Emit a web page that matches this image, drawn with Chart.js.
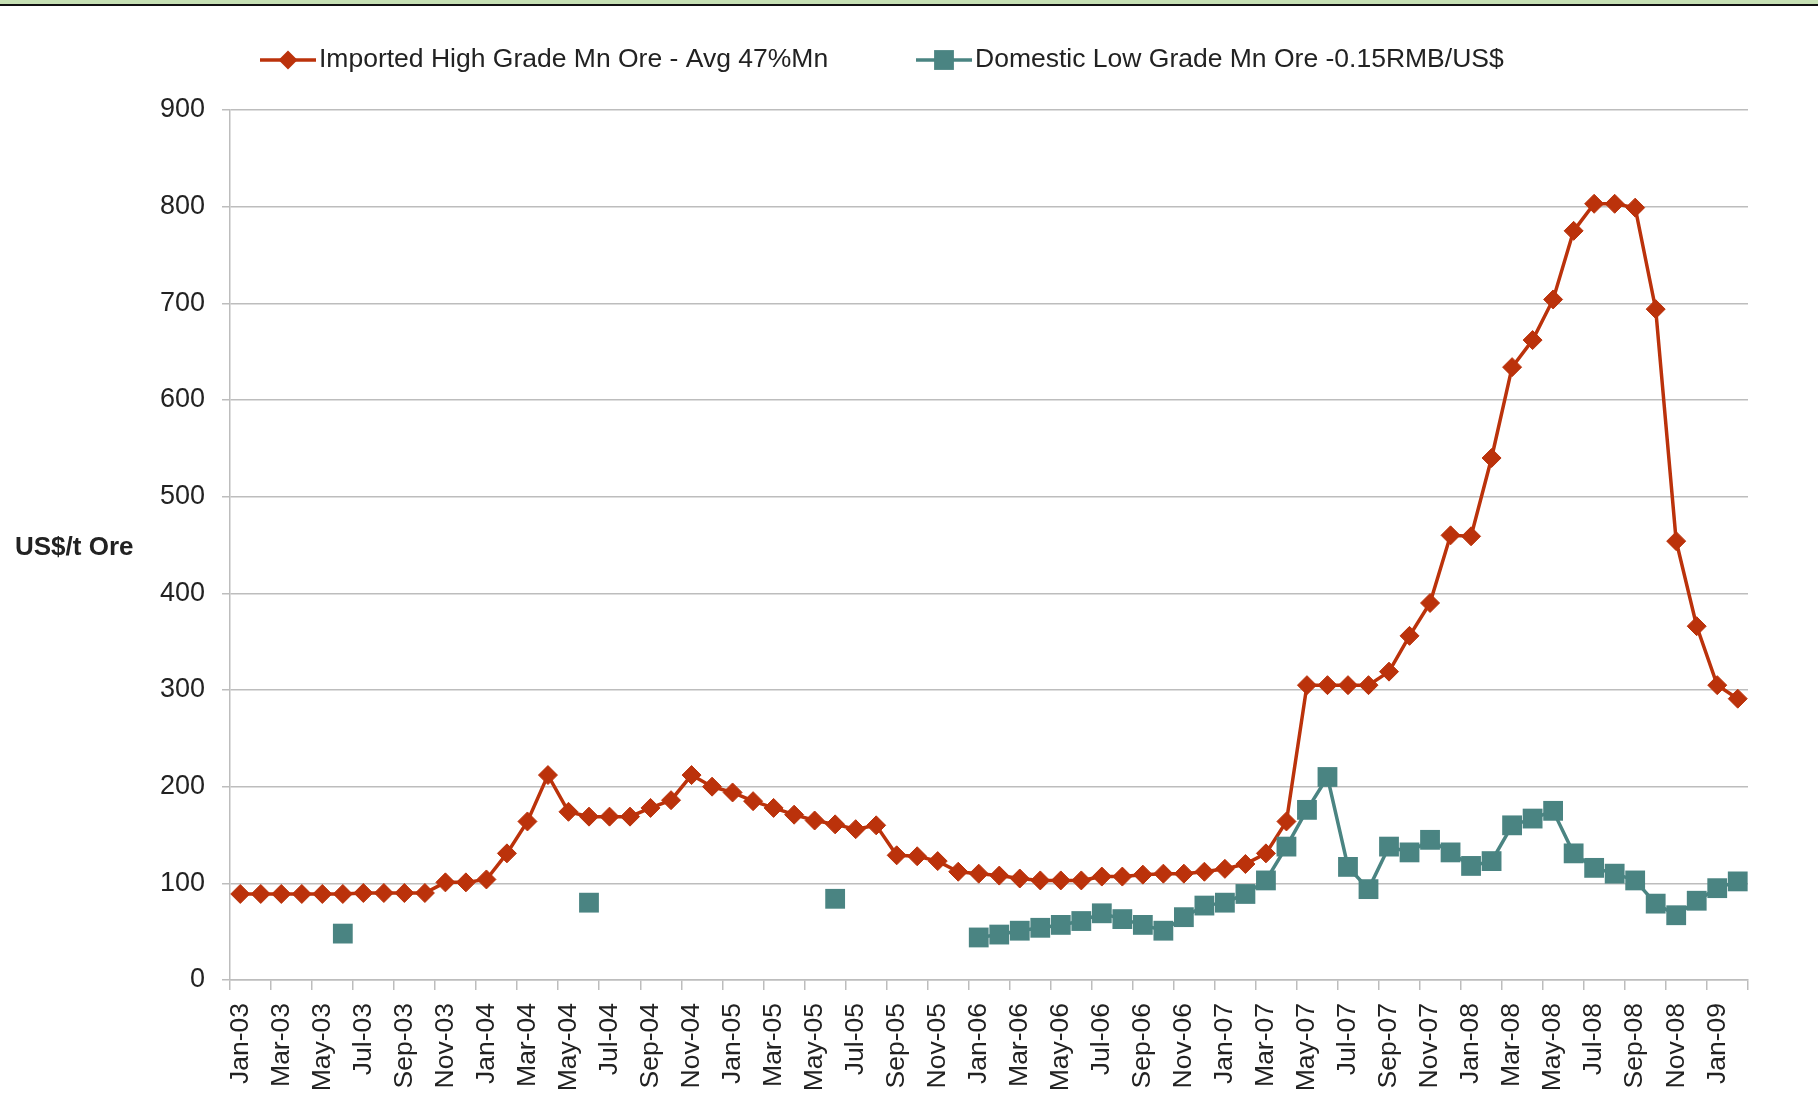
<!DOCTYPE html>
<html>
<head>
<meta charset="utf-8">
<title>Mn Ore prices</title>
<script src="https://cdn.jsdelivr.net/npm/chart.js@4.4.1/dist/chart.umd.min.js"></script>
<style>
  html, body { margin: 0; padding: 0; background: #fff; }
  #wrap { position: relative; width: 1818px; height: 1109px; overflow: hidden; }
  #band { position: absolute; left: 0; top: 0; width: 1818px; height: 4px; background: #c6e0b4; border-bottom: 2px solid #111; z-index: 2; }
  #chart { position: absolute; left: 0; top: 0; }
</style>
</head>
<body>
<div id="wrap">
  <div id="band"></div>
  <canvas id="chart" width="1818" height="1109"></canvas>
</div>
<script>
// month categories, Jan-03 .. Feb-09
var months = [
  'Jan-03','Feb-03','Mar-03','Apr-03','May-03','Jun-03','Jul-03','Aug-03','Sep-03','Oct-03','Nov-03','Dec-03',
  'Jan-04','Feb-04','Mar-04','Apr-04','May-04','Jun-04','Jul-04','Aug-04','Sep-04','Oct-04','Nov-04','Dec-04',
  'Jan-05','Feb-05','Mar-05','Apr-05','May-05','Jun-05','Jul-05','Aug-05','Sep-05','Oct-05','Nov-05','Dec-05',
  'Jan-06','Feb-06','Mar-06','Apr-06','May-06','Jun-06','Jul-06','Aug-06','Sep-06','Oct-06','Nov-06','Dec-06',
  'Jan-07','Feb-07','Mar-07','Apr-07','May-07','Jun-07','Jul-07','Aug-07','Sep-07','Oct-07','Nov-07','Dec-07',
  'Jan-08','Feb-08','Mar-08','Apr-08','May-08','Jun-08','Jul-08','Aug-08','Sep-08','Oct-08','Nov-08','Dec-08',
  'Jan-09','Feb-09'
];

// Imported High Grade Mn Ore - Avg 47%Mn (US$/t)
var importedHigh = [
  89, 89, 89, 89, 89, 89, 90, 90, 90, 90, 101, 101,
  104, 131, 164, 212, 174, 169, 169, 169, 178, 186, 212, 200,
  194, 185, 178, 171, 165, 161, 156, 160, 129, 128, 123, 112,
  110, 108, 105, 103, 103, 103, 107, 107, 109, 110, 110, 112,
  115, 120, 131, 164, 305, 305, 305, 305, 319, 356, 390, 460,
  459, 540, 634, 662, 704, 775, 803, 803, 799, 694, 454, 366,
  305, 291
];

// Domestic Low Grade Mn Ore (US$/t), gaps where no price
var domesticLow = [
  null, null, null, null, null, 48, null, null, null, null, null, null,
  null, null, null, null, null, 80, null, null, null, null, null, null,
  null, null, null, null, null, 84, null, null, null, null, null, null,
  44, 47, 51, 54, 57, 61, 69, 63, 57, 51, 65, 77,
  80, 89, 103, 138, 176, 210, 117, 94, 138, 132, 145, 132,
  118, 123, 160, 167, 175, 131, 116, 110, 103, 79, 67, 82,
  95, 102
];

var seriesNames = ['Imported High Grade Mn Ore - Avg 47%Mn', 'Domestic Low Grade Mn Ore -0.15RMB/US$'];
var yTicks = [0, 900, 100]; // min, max, step
var yTitle = 'US$/t Ore';

var FONT = "'Liberation Sans', Arial, sans-serif";
var RED = '#bb320b';
var TEAL = '#4a8482';
var GRID = '#bdbdbd';
var TEXT = '#222222';

// legend drawn as Excel does: short line with the marker in the middle
var lineLegend = {
  id: 'lineLegend',
  afterDraw: function (chart) {
    var ctx = chart.ctx;
    var starts = [260, 916];
    chart.data.datasets.forEach(function (ds, i) {
      var x = starts[i], y = 60, cx = x + 28;
      ctx.save();
      ctx.strokeStyle = ds.borderColor;
      ctx.lineWidth = ds.borderWidth;
      ctx.beginPath();
      ctx.moveTo(x, y);
      ctx.lineTo(x + 56, y);
      ctx.stroke();
      ctx.fillStyle = ds.backgroundColor;
      ctx.beginPath();
      if (ds.pointStyle === 'rectRot') {
        var r = ds.pointRadius;
        ctx.moveTo(cx - r, y);
        ctx.lineTo(cx, y - r);
        ctx.lineTo(cx + r, y);
        ctx.lineTo(cx, y + r);
        ctx.closePath();
      } else {
        var h = ds.pointRadius * Math.SQRT1_2;
        ctx.rect(cx - h, y - h, 2 * h, 2 * h);
      }
      ctx.fill();
      ctx.fillStyle = TEXT;
      ctx.font = '26.5px ' + FONT;
      ctx.textAlign = 'left';
      ctx.textBaseline = 'middle';
      ctx.fillText(ds.label, x + 59, y);
      ctx.restore();
    });
    // horizontal y axis title
    ctx.save();
    ctx.fillStyle = TEXT;
    ctx.font = 'bold 26px ' + FONT;
    ctx.textAlign = 'left';
    ctx.textBaseline = 'middle';
    ctx.fillText(yTitle, 15, 548);
    ctx.restore();
  }
};

var config = {
  type: 'line',
  data: {
    labels: months,
    datasets: [{
      label: seriesNames[0],
      data: importedHigh,
      borderColor: RED,
      backgroundColor: RED,
      borderWidth: 3.5,
      pointStyle: 'rectRot',
      pointRadius: 9.5,
      pointBorderWidth: 1,
      pointHoverRadius: 9.5,
      tension: 0,
      order: 1
    }, {
      label: seriesNames[1],
      data: domesticLow,
      borderColor: TEAL,
      backgroundColor: TEAL,
      borderWidth: 3.5,
      pointStyle: 'rect',
      pointRadius: 14,
      pointBorderWidth: 0,
      pointHoverRadius: 14,
      spanGaps: false,
      tension: 0,
      order: 0
    }]
  },
  options: {
    responsive: false,
    animation: false,
    layout: { padding: { top: 110, right: 70, bottom: 0, left: 0 } },
    plugins: {
      legend: { display: false },
      tooltip: { enabled: false },
      title: { display: false }
    },
    scales: {
      x: {
        type: 'category',
        offset: true,
        grid: {
          offset: true,
          drawOnChartArea: false,
          drawTicks: true,
          tickLength: 10,
          lineWidth: 1.5,
          color: function (c) { return c.index % 2 ? 'rgba(0,0,0,0)' : GRID; }
        },
        border: { color: GRID, width: 1.5 },
        ticks: {
          autoSkip: false,
          minRotation: 90,
          maxRotation: 90,
          padding: 13,
          color: TEXT,
          font: { family: FONT, size: 26.5 },
          callback: function (v, i) { return i % 2 ? '' : this.getLabelForValue(v); }
        },
        afterFit: function (s) { s.height = 129; }
      },
      y: {
        min: yTicks[0],
        max: yTicks[1],
        ticks: {
          stepSize: yTicks[2],
          padding: 17,
          color: TEXT,
          font: { family: FONT, size: 27 }
        },
        grid: { color: GRID, lineWidth: 1.5, tickLength: 8 },
        border: { color: GRID, width: 1.5 },
        afterFit: function (s) { s.width = 230; }
      }
    }
  },
  plugins: [lineLegend]
};

var myChart = new Chart(document.getElementById('chart').getContext('2d'), config);
</script>
</body>
</html>
